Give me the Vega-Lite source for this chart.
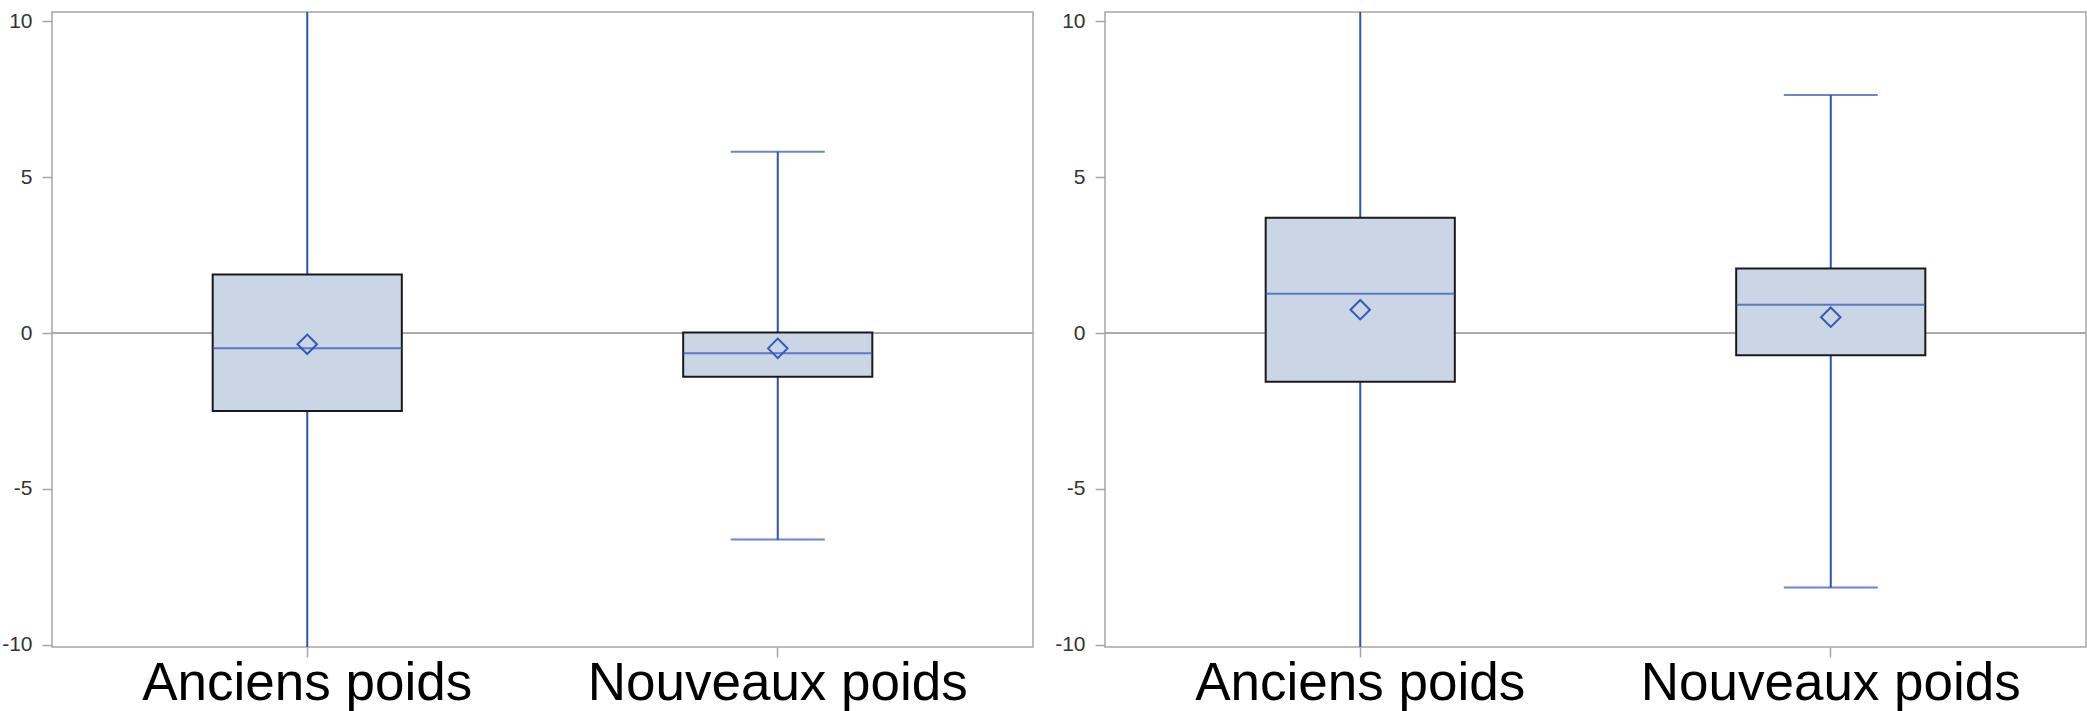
{
  "$schema": "https://vega.github.io/schema/vega-lite/v6.json",
  "padding": {"left": 0, "top": 9, "right": 0, "bottom": 0},
  "background": "white",
  "config": {
    "font": "Liberation Sans",
    "view": {"stroke": "#a6a6a6", "strokeWidth": 1.5},
    "axis": {"grid": false, "domain": false, "tickColor": "#a6a6a6", "tickWidth": 1.5, "tickSize": 10, "title": null}
  },
  "data": {
    "values": [
      {"panneau": 1, "groupe": "Anciens poids", "bas": -11.5, "q1": -2.50, "mediane": -0.49, "q3": 1.88, "haut": 11.5, "moyenne": -0.36},
      {"panneau": 1, "groupe": "Nouveaux poids", "bas": -6.62, "q1": -1.40, "mediane": -0.65, "q3": 0.02, "haut": 5.82, "moyenne": -0.49},
      {"panneau": 2, "groupe": "Anciens poids", "bas": -11.5, "q1": -1.56, "mediane": 1.26, "q3": 3.70, "haut": 11.5, "moyenne": 0.75},
      {"panneau": 2, "groupe": "Nouveaux poids", "bas": -8.16, "q1": -0.71, "mediane": 0.91, "q3": 2.07, "haut": 7.64, "moyenne": 0.51}
    ]
  },
  "facet": {"column": {"field": "panneau", "type": "ordinal", "header": {"title": null, "labels": false}}},
  "spacing": 18,
  "resolve": {"axis": {"y": "independent", "x": "independent"}},
  "spec": {
    "width": 981,
    "height": 635,
    "encoding": {
      "x": {
        "field": "groupe",
        "type": "nominal",
        "scale": {"paddingInner": 0.598, "paddingOuter": 0.3415},
        "axis": {"labelAngle": 0, "labelFontSize": 53, "labelColor": "black", "labelPadding": 0, "labelLimit": 0}
      }
    },
    "layer": [
      {
        "mark": {"type": "rule", "color": "#a6a6a6", "strokeWidth": 1.5},
        "encoding": {"x": null, "y": {"datum": 0, "type": "quantitative"}}
      },
      {
        "mark": {"type": "rule", "color": "#2c52b4", "strokeWidth": 2, "clip": true},
        "encoding": {
          "y": {
            "field": "bas",
            "type": "quantitative",
            "scale": {"domain": [-10.07, 10.3], "nice": false, "zero": false},
            "axis": {"values": [10, 5, 0, -5, -10], "labelExpr": "replace(datum.label, '\u2212', '-')", "labelFontSize": 21, "labelColor": "#333333", "labelPadding": 10}
          },
          "y2": {"field": "haut"}
        }
      },
      {
        "mark": {"type": "tick", "color": "#2c52b4", "thickness": 2, "size": 94, "clip": true},
        "encoding": {"y": {"field": "haut", "type": "quantitative"}}
      },
      {
        "mark": {"type": "tick", "color": "#2c52b4", "thickness": 2, "size": 94, "clip": true},
        "encoding": {"y": {"field": "bas", "type": "quantitative"}}
      },
      {
        "mark": {"type": "bar", "fill": "#cad5e5", "stroke": "#1a1a1a", "strokeWidth": 2},
        "encoding": {"y": {"field": "q1", "type": "quantitative"}, "y2": {"field": "q3"}}
      },
      {
        "mark": {"type": "tick", "color": "#2c52b4", "thickness": 2, "size": 189},
        "encoding": {"y": {"field": "mediane", "type": "quantitative"}}
      },
      {
        "mark": {"type": "point", "shape": "diamond", "filled": false, "size": 380, "stroke": "#3458bc", "strokeWidth": 2, "opacity": 1},
        "encoding": {"y": {"field": "moyenne", "type": "quantitative"}}
      }
    ]
  }
}
